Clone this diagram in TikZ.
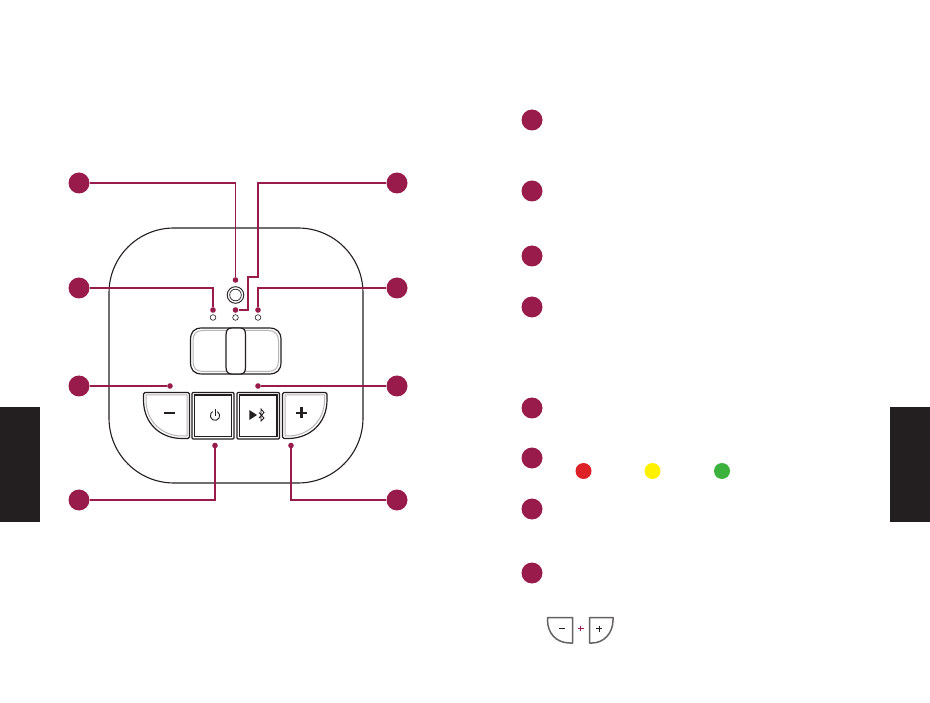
\documentclass[tikz,border=0pt]{standalone}
\definecolor{wine}{HTML}{981B4B}
\definecolor{ink}{HTML}{231F20}
\definecolor{soft}{HTML}{B5B5B5}
\tikzset{
  x=1pt,y=-1pt,
  callout/.style={circle,fill=wine,draw=none,minimum size=21pt,inner sep=0pt},
  pin/.style={circle,fill=wine,draw=none,minimum size=5.6pt,inner sep=0pt},
  led/.style={circle,draw=ink,line width=0.6pt,fill=white,minimum size=5.6pt,inner sep=0pt},
  lead/.style={draw=wine,line width=1.1pt},
  swatch/.style={circle,draw=none,minimum size=16pt,inner sep=0pt},
  outline/.style={draw=ink,line width=1.2pt,line join=round},
  inner/.style={draw=soft,line width=1pt,line join=round},
  keyline/.style={draw=ink,line width=1.1pt},
  minikey/.style={draw=ink!70,line width=1.5pt,line join=round},
  glyph/.style={ink,line width=2.1pt},
  tab/.style={fill=ink,draw=none},
}
\begin{document}
\begin{tikzpicture}
\useasboundingbox (0,0) rectangle (930,703);
\fill[white] (0,0) rectangle (930,703);
% side tabs
\path[tab] (0,407) rectangle (40,522);
\path[tab] (890,407) rectangle (930,522);
% body
\draw[draw=ink,line width=1.1pt] (174,228) -- (298,228)
  .. controls (334,228) and (363,257) .. (363,293) -- (363,418)
  .. controls (363,454) and (334,483) .. (298,483) -- (174,483)
  .. controls (138,483) and (109,454) .. (109,418) -- (109,293)
  .. controls (109,257) and (138,228) .. (174,228) -- cycle;
% microphone ring
\draw[ink,line width=0.9pt] (235.5,295) circle (8.3);
\draw[ink,line width=0.7pt] (235.5,295) circle (5.8);
% slider
\draw[outline] (190.5,340) .. controls (190.5,332) and (194,328) .. (202,328) -- (269,328)
  .. controls (277,328) and (281,332) .. (281,340) -- (281,362)
  .. controls (281,370) and (277,374) .. (269,374) -- (202,374)
  .. controls (194,374) and (190.5,370) .. (190.5,362) -- cycle;
\draw[inner] (193,341) .. controls (193,334) and (196,330.5) .. (203,330.5) -- (268,330.5)
  .. controls (275,330.5) and (278.5,334) .. (278.5,341) -- (278.5,361)
  .. controls (278.5,368) and (275,371.5) .. (268,371.5) -- (203,371.5)
  .. controls (196,371.5) and (193,368) .. (193,361) -- cycle;
\draw[outline,fill=white] (226,335) .. controls (226,330) and (228,328) .. (232,328) -- (240,328)
  .. controls (244,328) and (245.5,330) .. (245.5,335) -- (245.5,367)
  .. controls (245.5,372) and (244,374) .. (240,374) -- (232,374)
  .. controls (228,374) and (226,372) .. (226,367) -- cycle;
% minus key
\draw[outline] (145,392.5) -- (188,392.5) -- (189.5,394) -- (189.5,437) -- (188,438.5) -- (182,438.5)
  .. controls (160,438.5) and (143.5,423) .. (143.5,400) -- (143.5,394) -- cycle;
\draw[inner] (146,395) -- (187,395) -- (187,436) -- (182,436)
  .. controls (162,436) and (146,421) .. (146,400) -- cycle;
\draw[glyph] (164,413) -- (175,413);
% plus key
\draw[outline] (284,392.5) -- (325.5,392.5) -- (327,394) -- (327,400)
  .. controls (327,423) and (310,438.5) .. (288,438.5) -- (284,438.5) -- (282.5,437) -- (282.5,394) -- cycle;
\draw[inner] (285,395) -- (324.5,395) -- (324.5,400)
  .. controls (324.5,421) and (308,436) .. (288,436) -- (285,436) -- cycle;
\draw[glyph] (296,413) -- (307,413) (301.5,407.5) -- (301.5,418.5);
% power key
\draw[outline] (193,392.5) -- (233,392.5) -- (234,393.5) -- (234,438) -- (233,439) -- (193,439) -- (192,438) -- (192,393.5) -- cycle;
\draw[keyline] (194.5,395) rectangle (231.5,436.5);
\draw[ink,line width=0.9pt] (217.35,411.63) arc[start angle=-60,end angle=240,radius=4.7];
\draw[ink,line width=0.9pt] (215,409.5) -- (215,415.7);
% bluetooth key
\draw[outline] (238,392.5) -- (278.5,392.5) -- (279.5,393.5) -- (279.5,438) -- (278.5,439) -- (238,439) -- (237,438) -- (237,393.5) -- cycle;
\draw[keyline] (239.5,395) rectangle (277,436.5);
\fill[ink] (249.3,410) -- (257,415) -- (249.3,420) -- cycle;
\draw[ink,line width=0.9pt] (259,412.5) -- (264,418) -- (261,421) -- (261,409) -- (264,412.5) -- (259,418);
% callouts, left
\node[callout] (c1) at (79,183) {};
\node[callout] (c3) at (79,288) {};
\node[callout] (c5) at (79,386) {};
\node[callout] (c7) at (79,500) {};
% callouts, right
\node[callout] (c2) at (397,183) {};
\node[callout] (c4) at (397,288) {};
\node[callout] (c6) at (397,386) {};
\node[callout] (c8) at (397,500) {};
% leds
\node[led] (l1) at (213,317.5) {};
\node[led] (l2) at (235.5,317.5) {};
\node[led] (l3) at (258,317.5) {};
% pins
\node[pin] (p1) at (235.5,280) {};
\node[pin] (p2) at (235.5,310) {};
\node[pin] (p3) at (213,310) {};
\node[pin] (p4) at (258,310) {};
\node[pin] (p5) at (170,386) {};
\node[pin] (p6) at (258,386) {};
\node[pin] (p7) at (215,445.5) {};
\node[pin] (p8) at (291,445.5) {};
\coordinate (b1) at (258,277);
\coordinate (b2) at (248,277);
\coordinate (b3) at (248,310);
% leaders
\draw[lead] (c1) -| (p1);
\draw[lead] (c2) -| (b1) -- (b2) -- (b3) -- (p2);
\draw[lead] (c3) -| (p3);
\draw[lead] (c4) -| (p4);
\draw[lead] (c5) -- (p5);
\draw[lead] (c6) -- (p6);
\draw[lead] (c7) -| (p7);
\draw[lead] (c8) -| (p8);
% list bullets
\node[callout] (r1) at (532,120) {};
\node[callout] (r2) at (532,191) {};
\node[callout] (r3) at (532,256) {};
\node[callout] (r4) at (532,307) {};
\node[callout] (r5) at (532,408) {};
\node[callout] (r6) at (532,458) {};
\node[callout] (r7) at (532,509) {};
\node[callout] (r8) at (532,573) {};
% swatches
\node[swatch,fill={rgb,255:red,222;green,32;blue,39}] (s1) at (583.5,471) {};
\node[swatch,fill={rgb,255:red,255;green,242;blue,0}] (s2) at (652.5,471) {};
\node[swatch,fill={rgb,255:red,60;green,178;blue,60}] (s3) at (722,471) {};
% small keys
\draw[minikey] (547.5,617.5) -- (572.5,617.5) -- (572.5,643) -- (570,643)
  .. controls (556,643) and (547.5,633) .. (547.5,620) -- cycle;
\draw[ink,line width=0.9pt] (559,628.5) -- (565,628.5);
\draw[minikey] (589.5,617.5) -- (613,617.5) -- (613,620)
  .. controls (613,633) and (604,643) .. (592,643) -- (589.5,643) -- cycle;
\draw[ink,line width=0.9pt] (596,628.5) -- (602,628.5) (599,625.5) -- (599,631.5);
\draw[wine,line width=1pt] (578,628.5) -- (583.5,628.5) (580.75,625.75) -- (580.75,631.25);
\end{tikzpicture}
\end{document}
